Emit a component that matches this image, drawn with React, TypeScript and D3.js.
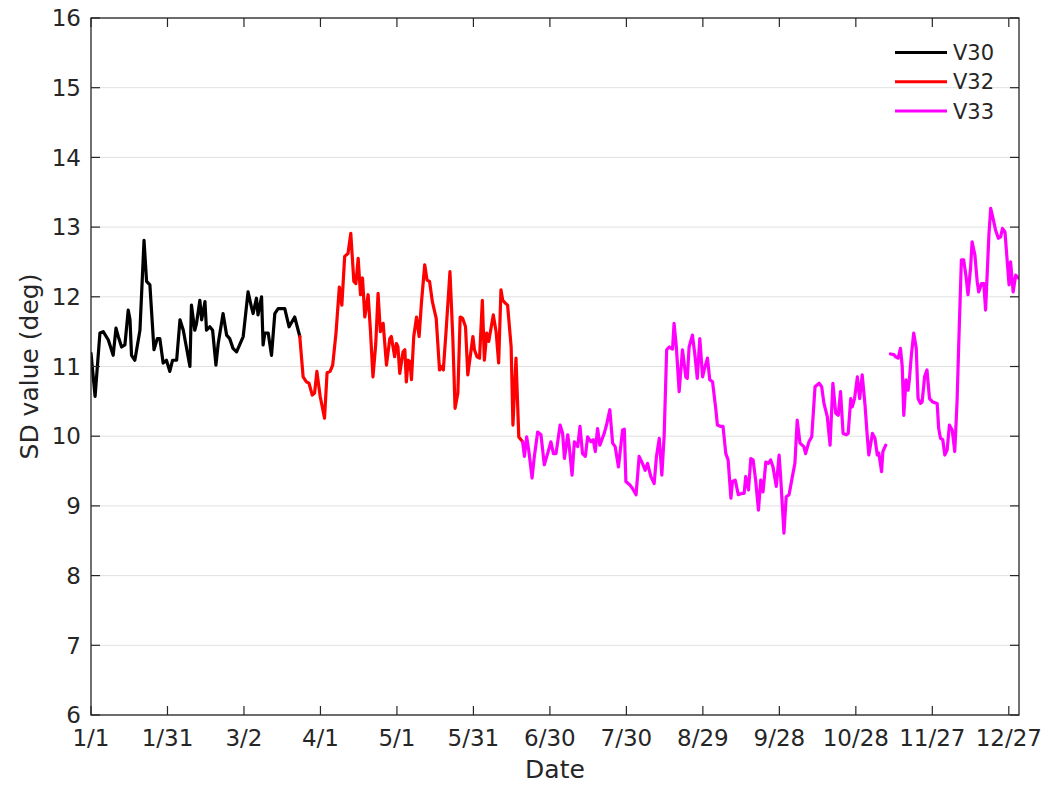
import React from "react";
import * as d3 from "d3";

// Daily SD series, [day of year (0 = 1/1), SD value in degrees]
const v30: [number, number][] = [
  [0, 11.19], [1.6, 10.57], [3.5, 11.48], [4.8, 11.5], [6.8, 11.38], [8.7, 11.16], [9.8, 11.55],
  [10.7, 11.43], [12, 11.28], [13.3, 11.31], [14.6, 11.81], [15.3, 11.67], [15.9, 11.16], [17.2, 11.09],
  [19.2, 11.52], [20.8, 12.81], [21.8, 12.22], [23.1, 12.17], [24.7, 11.24], [26, 11.4], [27, 11.4],
  [28.3, 11.05], [29.6, 11.09], [30.9, 10.93], [32, 11.09], [33.6, 11.09], [34.9, 11.67], [36.2, 11.52],
  [38.8, 11.0], [39.4, 11.88], [40.7, 11.52], [41.4, 11.62], [42.7, 11.95], [43.4, 11.67], [44.7, 11.93],
  [45.3, 11.52], [46.6, 11.57], [47.7, 11.52], [49, 11.02], [49.9, 11.33], [51.8, 11.76], [53.2, 11.45],
  [54.4, 11.4], [55.7, 11.26], [57.1, 11.21], [59.7, 11.43], [61.6, 12.07], [62.9, 11.86], [63.6, 11.76],
  [64.9, 11.98], [65.5, 11.74], [66.9, 12.0], [67.5, 11.31], [68.2, 11.48], [69.5, 11.48], [70.8, 11.16],
  [72.1, 11.76], [73.4, 11.83], [76, 11.83], [77.7, 11.57], [79.9, 11.71], [81.9, 11.43],
];

const v32: [number, number][] = [
  [81.9, 11.43], [83.2, 10.85], [84.5, 10.78], [85.5, 10.76], [86.8, 10.59], [87.7, 10.62], [88.6, 10.93],
  [89.9, 10.57], [91.6, 10.26], [92.6, 10.91], [93.8, 10.93], [94.8, 11.02], [96.1, 11.48], [97.4, 12.14],
  [98.4, 11.88], [99.5, 12.58], [100.8, 12.62], [101.9, 12.91], [103.1, 12.22], [103.9, 12.19],
  [104.8, 12.55], [105.7, 12.03], [106.5, 12.27], [107.4, 11.71], [108.7, 12.03], [109.6, 11.52],
  [110.6, 10.85], [111.7, 11.33], [112.6, 12.05], [113.5, 11.5], [114.6, 11.62], [115.9, 11.02],
  [117.2, 11.4], [117.8, 11.43], [119.1, 11.14], [119.8, 11.33], [120.4, 11.28], [121.1, 10.9],
  [122.4, 11.21], [123.1, 11.24], [123.7, 10.78], [124.4, 11.09], [125.1, 11.07], [125.7, 10.81],
  [126.6, 11.43], [127.7, 11.71], [128.7, 11.43], [129.6, 11.91], [130.9, 12.46], [131.8, 12.24],
  [132.8, 12.22], [133.9, 11.93], [135.4, 11.69], [136.7, 10.95], [137.3, 11.0], [138.2, 10.95],
  [139.3, 11.52], [140.8, 12.36], [141.9, 11.43], [142.8, 10.4], [143.9, 10.62], [144.8, 11.71],
  [145.8, 11.69], [146.9, 11.57], [147.8, 10.88], [149.8, 11.43], [150.4, 11.24], [151.4, 11.14],
  [152.4, 11.12], [153.5, 11.95], [154.3, 11.09], [155.2, 11.48], [156, 11.36], [157.8, 11.74],
  [158.9, 11.5], [159.9, 11.05], [160.8, 12.1], [161.5, 11.95], [162.5, 11.91], [163.4, 11.88],
  [164.8, 11.28], [165.5, 10.16], [166.7, 11.12], [167.8, 9.99], [169.3, 9.92],
];

// V33 has one missing day, so it is kept as two runs
const v33a: [number, number][] = [
  [169.3, 9.92], [170, 9.71], [170.9, 9.99], [171.7, 9.8], [173, 9.4], [173.9, 9.71], [175.2, 10.06],
  [176.5, 10.02], [177.8, 9.59], [179.1, 9.75], [180.4, 9.92], [181.4, 9.75], [182.4, 9.75], [184, 10.16],
  [185, 10.04], [185.7, 9.68], [187, 10.02], [187.6, 9.85], [188.7, 9.44], [189.6, 9.92], [190.9, 9.85],
  [191.8, 10.14], [192.8, 9.75], [193.9, 9.71], [194.8, 9.99], [196.1, 9.92], [197, 9.95], [197.8, 9.78],
  [198.7, 10.11], [199.6, 9.87], [201.3, 10.04], [202.2, 10.16], [203.5, 10.38], [204.6, 9.9],
  [205.6, 9.85], [206.9, 9.56], [208.5, 10.09], [209.2, 10.1], [209.8, 9.35], [211.4, 9.3], [212.4, 9.25],
  [213.8, 9.16], [215, 9.71], [216.3, 9.61], [217.4, 9.51], [218.3, 9.61], [219.6, 9.42], [220.9, 9.32],
  [221.8, 9.71], [222.9, 9.97], [223.9, 9.44], [224.8, 9.99], [225.8, 11.24], [226.8, 11.28],
  [228.1, 11.25], [228.7, 11.62], [229.6, 11.28], [230.7, 10.64], [232, 11.24], [233.3, 10.85],
  [233.9, 10.83], [234.6, 11.28], [235.9, 11.45], [236.8, 11.19], [237.8, 10.83], [238.8, 11.4],
  [239.9, 10.85], [240.5, 10.95], [241.8, 11.12], [242.7, 10.81], [243.8, 10.78], [245.1, 10.38],
  [245.7, 10.16], [247, 10.14], [247.9, 10.14], [249, 9.75], [249.9, 9.66], [251, 9.11], [251.6, 9.35],
  [252.7, 9.37], [253.9, 9.16], [255.5, 9.18], [256.2, 9.18], [256.8, 9.42], [257.9, 9.23], [258.8, 9.68],
  [259.7, 9.66], [260.7, 9.37], [261.8, 8.94], [262.7, 9.37], [263.6, 9.2], [264.7, 9.63], [265.7, 9.61],
  [266.6, 9.66], [267.5, 9.56], [268.8, 9.28], [269.9, 9.73], [270.5, 9.42], [271.8, 8.61], [272.7, 9.13],
  [273.8, 9.16], [275.1, 9.42], [276.1, 9.61], [277, 10.23], [278.1, 9.9], [279.6, 9.85], [280.3, 9.75],
  [281.6, 9.92], [282.7, 9.99], [284, 10.71], [285.6, 10.76], [286.6, 10.71], [287.5, 10.47],
  [288.8, 10.28], [289.9, 9.87], [291, 10.76], [292.1, 10.33], [293.1, 10.3], [294, 10.64], [295, 10.04],
  [296.3, 10.02], [297, 10.04], [298, 10.54], [298.6, 10.42], [299.5, 10.54], [300.6, 10.85],
  [301.5, 10.54], [302.5, 10.88], [303.6, 10.45], [304.5, 9.99], [305.1, 9.73], [306.5, 10.04],
  [307.5, 9.97], [308.4, 9.73], [309, 9.76], [310.1, 9.49], [310.6, 9.78], [311.7, 9.87],
];

const v33b: [number, number][] = [
  [313.6, 11.18], [314.9, 11.17], [315.6, 11.14], [316.6, 11.12], [317.5, 11.26], [318.2, 11.0],
  [318.8, 10.3], [319.7, 10.81], [320.5, 10.66], [321, 10.81], [321.8, 11.17], [322.7, 11.48],
  [323.7, 11.26], [324.4, 10.54], [325.4, 10.47], [326, 10.49], [327, 10.86], [327.9, 10.95],
  [328.9, 10.54], [330.2, 10.49], [331.9, 10.47], [332.5, 10.11], [333.2, 9.97], [334.1, 9.95],
  [334.9, 9.73], [335.8, 9.8], [336.7, 10.16], [337.8, 10.09], [338.8, 9.78], [339.7, 10.49],
  [340.4, 11.36], [341.4, 12.53], [342.3, 12.53], [343.3, 12.27], [344, 12.03], [345, 12.41],
  [345.6, 12.79], [346.7, 12.6], [347.6, 12.22], [348.2, 12.07], [349.3, 12.19], [350.2, 12.19],
  [350.9, 11.81], [351.5, 12.31], [352.2, 12.89], [352.9, 13.27], [353.8, 13.13], [354.8, 12.96],
  [355.9, 12.84], [356.8, 12.86], [357.5, 12.98], [358.5, 12.93], [359.4, 12.5], [360.1, 12.17],
  [360.7, 12.5], [361.7, 12.07], [362.7, 12.31], [363.7, 12.27],
];

const xTickDays = [0, 30, 60, 90, 120, 150, 180, 210, 240, 270, 300, 330, 360];
const xTickLabels = ["1/1", "1/31", "3/2", "4/1", "5/1", "5/31", "6/30", "7/30", "8/29", "9/28", "10/28", "11/27", "12/27"];
const yTicks = [6, 7, 8, 9, 10, 11, 12, 13, 14, 15, 16];

const seriesNames = ["V30", "V32", "V33"];
const seriesColors = ["#000000", "#ff0000", "#ff00ff"];

const W = 1045;
const H = 785;
const left = 91;
const right = 1019;
const top = 18;
const bottom = 715;
const axisColor = "#262626";
const font = "'DejaVu Sans', sans-serif";

export default function App() {
  const x = d3.scaleLinear().domain([0, 364]).range([left, right]);
  const y = d3.scaleLinear().domain([6, 16]).range([bottom, top]);
  const line = d3
    .line<[number, number]>()
    .x((d) => x(d[0]))
    .y((d) => y(d[1]));

  const runs: { data: [number, number][]; color: string }[] = [
    { data: v30, color: seriesColors[0] },
    { data: v32, color: seriesColors[1] },
    { data: v33a, color: seriesColors[2] },
    { data: v33b, color: seriesColors[2] },
  ];

  const tickLen = 9;

  return (
    <div style={{ position: "absolute", left: 0, top: 0 }}>
      <svg width={W} height={H} style={{ display: "block", background: "#fff" }} fontFamily={font}>
        <defs>
          <clipPath id="plotClip">
            <rect x={left} y={top} width={right - left} height={bottom - top} />
          </clipPath>
        </defs>
        <rect x={0} y={0} width={W} height={H} fill="#fff" />

        {/* horizontal grid */}
        {yTicks.map((t) => (
          <line key={"g" + t} x1={left} x2={right} y1={y(t)} y2={y(t)} stroke="#e1e1e1" strokeWidth={1} />
        ))}

        {/* series */}
        <g clipPath="url(#plotClip)">
          {runs.map((r, i) => (
            <path
              key={i}
              d={line(r.data) || ""}
              fill="none"
              stroke={r.color}
              strokeWidth={3.2}
              strokeLinejoin="round"
              strokeLinecap="round"
            />
          ))}
        </g>

        {/* axes box */}
        <rect x={left} y={top} width={right - left} height={bottom - top} fill="none" stroke={axisColor} strokeWidth={1.3} />

        {/* x ticks, bottom and top */}
        {xTickDays.map((d, i) => (
          <g key={"xt" + d}>
            <line x1={x(d)} x2={x(d)} y1={bottom} y2={bottom - tickLen} stroke={axisColor} strokeWidth={1.2} />
            <line x1={x(d)} x2={x(d)} y1={top} y2={top + tickLen} stroke={axisColor} strokeWidth={1.2} />
            <text x={x(d)} y={746} textAnchor="middle" fontSize={23} fill={axisColor}>
              {xTickLabels[i]}
            </text>
          </g>
        ))}

        {/* y ticks, left and right */}
        {yTicks.map((t) => (
          <g key={"yt" + t}>
            <line x1={left} x2={left + tickLen} y1={y(t)} y2={y(t)} stroke={axisColor} strokeWidth={1.2} />
            <line x1={right} x2={right - tickLen} y1={y(t)} y2={y(t)} stroke={axisColor} strokeWidth={1.2} />
            <text x={81} y={y(t)} dy="0.36em" textAnchor="end" fontSize={23} fill={axisColor}>
              {t}
            </text>
          </g>
        ))}

        {/* axis labels */}
        <text x={(left + right) / 2} y={778} textAnchor="middle" fontSize={25} fill={axisColor}>
          Date
        </text>
        <text
          transform={`translate(38, ${(top + bottom) / 2}) rotate(-90)`}
          textAnchor="middle"
          fontSize={25}
          fill={axisColor}
        >
          SD value (deg)
        </text>

        {/* legend */}
        {seriesNames.map((n, i) => (
          <g key={n} transform={`translate(0, ${52.5 + i * 29.3})`}>
            <line x1={895} x2={947} y1={0} y2={0} stroke={seriesColors[i]} strokeWidth={3} />
            <text x={953} y={0} dy="0.36em" fontSize={21} fill={axisColor}>
              {n}
            </text>
          </g>
        ))}
      </svg>
    </div>
  );
}
